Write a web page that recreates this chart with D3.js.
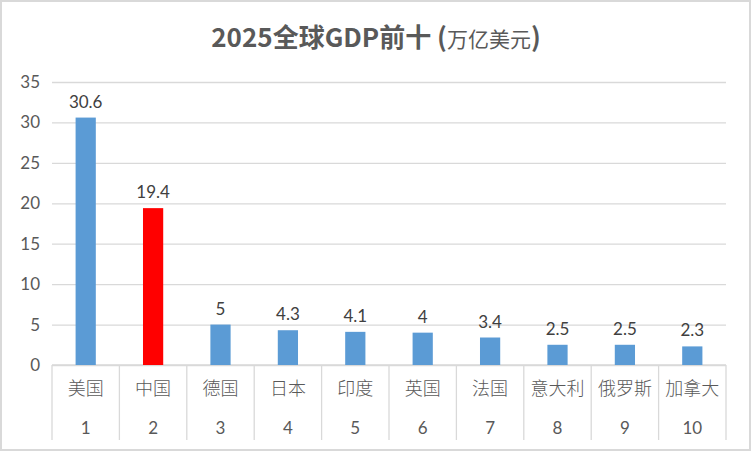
<!DOCTYPE html>
<html>
<head>
<meta charset="utf-8">
<script src="https://cdn.jsdelivr.net/npm/d3@7"></script>
<style>
  body { margin: 0; background: #fff; }
  svg text { font-family: "Noto Sans CJK SC", Lato, sans-serif; }
</style>
</head>
<body>
<div id="chart"></div>
<script>
// top ten GDP 2025, trillion USD
var countries = ["美国", "中国", "德国", "日本", "印度", "英国", "法国", "意大利", "俄罗斯", "加拿大"];
var ranks = ["1", "2", "3", "4", "5", "6", "7", "8", "9", "10"];
var gdp = [30.6, 19.4, 5, 4.3, 4.1, 4, 3.4, 2.5, 2.5, 2.3];
var yTicks = [0, 5, 10, 15, 20, 25, 30, 35];

var W = 752, H = 452;
var margin = {top: 82, bottom: 87, left: 52, right: 26};

var svg = d3.select("#chart").append("svg")
    .attr("width", W)
    .attr("height", H);

// outer frame
svg.append("rect")
    .attr("x", 1).attr("y", 1)
    .attr("width", W - 3).attr("height", H - 3)
    .attr("fill", "#fff")
    .attr("stroke", "#d9d9d9")
    .attr("stroke-width", 2);

var x = d3.scaleBand()
    .domain(ranks)
    .range([margin.left, W - margin.right])
    .paddingInner(0.7)
    .paddingOuter(0.35);

var xOuter = d3.scaleBand()
    .domain(ranks)
    .range([margin.left, W - margin.right]);

var y = d3.scaleLinear()
    .domain([0, 35])
    .range([H - margin.bottom, margin.top]);

// gridlines + y labels
var yAxis = d3.axisLeft(y)
    .tickValues(yTicks)
    .tickSize(-(W - margin.left - margin.right))
    .tickPadding(12);

var gy = svg.append("g")
    .attr("transform", "translate(" + margin.left + ",0)")
    .call(yAxis);
gy.select(".domain").remove();
gy.selectAll("line").attr("stroke", "#d9d9d9").attr("stroke-width", 1.3);
gy.selectAll("text")
    .attr("fill", "#595959")
    .style("font-size", "17px")
    .style("font-family", "Lato, sans-serif");

// category separators (two-level axis)
var baseY = y(0);
var sepBottom = 440;
var bounds = ranks.map(function(d){ return xOuter(d); });
bounds.push(W - margin.right);
svg.append("g").selectAll("line")
    .data(bounds)
    .enter()
    .append("line")
    .attr("x1", function(d){ return d; })
    .attr("x2", function(d){ return d; })
    .attr("y1", baseY)
    .attr("y2", sepBottom)
    .attr("stroke", "#d9d9d9")
    .attr("stroke-width", 1.3);

svg.append("line")
    .attr("x1", margin.left).attr("x2", W - margin.right)
    .attr("y1", baseY).attr("y2", baseY)
    .attr("stroke", "#d9d9d9")
    .attr("stroke-width", 1.3);

// bars
svg.append("g").selectAll("rect")
    .data(gdp)
    .enter()
    .append("rect")
    .attr("x", function(d, i){ return x(ranks[i]); })
    .attr("width", x.bandwidth())
    .attr("y", function(d){ return y(d); })
    .attr("height", function(d){ return y(0) - y(d); })
    .attr("fill", function(d, i){ return countries[i] == "中国" ? "#ff0000" : "#5b9bd5"; });

// value labels
svg.append("g").selectAll("text")
    .data(gdp)
    .enter()
    .append("text")
    .attr("x", function(d, i){ return xOuter(ranks[i]) + xOuter.bandwidth() / 2; })
    .attr("y", function(d){ return y(d) - 10; })
    .attr("text-anchor", "middle")
    .attr("fill", "#404040")
    .style("font-size", "17px")
    .style("font-family", "Lato, sans-serif")
    .text(function(d){ return d; });

// category names
svg.append("g").selectAll("text")
    .data(countries)
    .enter()
    .append("text")
    .attr("x", function(d, i){ return xOuter(ranks[i]) + xOuter.bandwidth() / 2; })
    .attr("y", 395)
    .attr("text-anchor", "middle")
    .attr("fill", "#595959")
    .style("font-size", "18px")
    .style("font-weight", "300")
    .text(function(d){ return d; });

// rank numbers
svg.append("g").selectAll("text")
    .data(ranks)
    .enter()
    .append("text")
    .attr("x", function(d){ return xOuter(d) + xOuter.bandwidth() / 2; })
    .attr("y", 434)
    .attr("text-anchor", "middle")
    .attr("fill", "#595959")
    .style("font-size", "17px")
    .style("font-family", "Lato, sans-serif")
    .text(function(d){ return d; });

// title
var title = svg.append("text")
    .attr("x", W / 2)
    .attr("y", 47)
    .attr("text-anchor", "middle")
    .attr("fill", "#595959");
title.append("tspan")
    .style("font-size", "26px")
    .style("font-weight", "bold")
    .text("2025全球GDP前十 (");
title.append("tspan")
    .style("font-size", "21px")
    .text("万亿美元");
title.append("tspan")
    .style("font-size", "26px")
    .style("font-weight", "bold")
    .text(")");
</script>
</body>
</html>
